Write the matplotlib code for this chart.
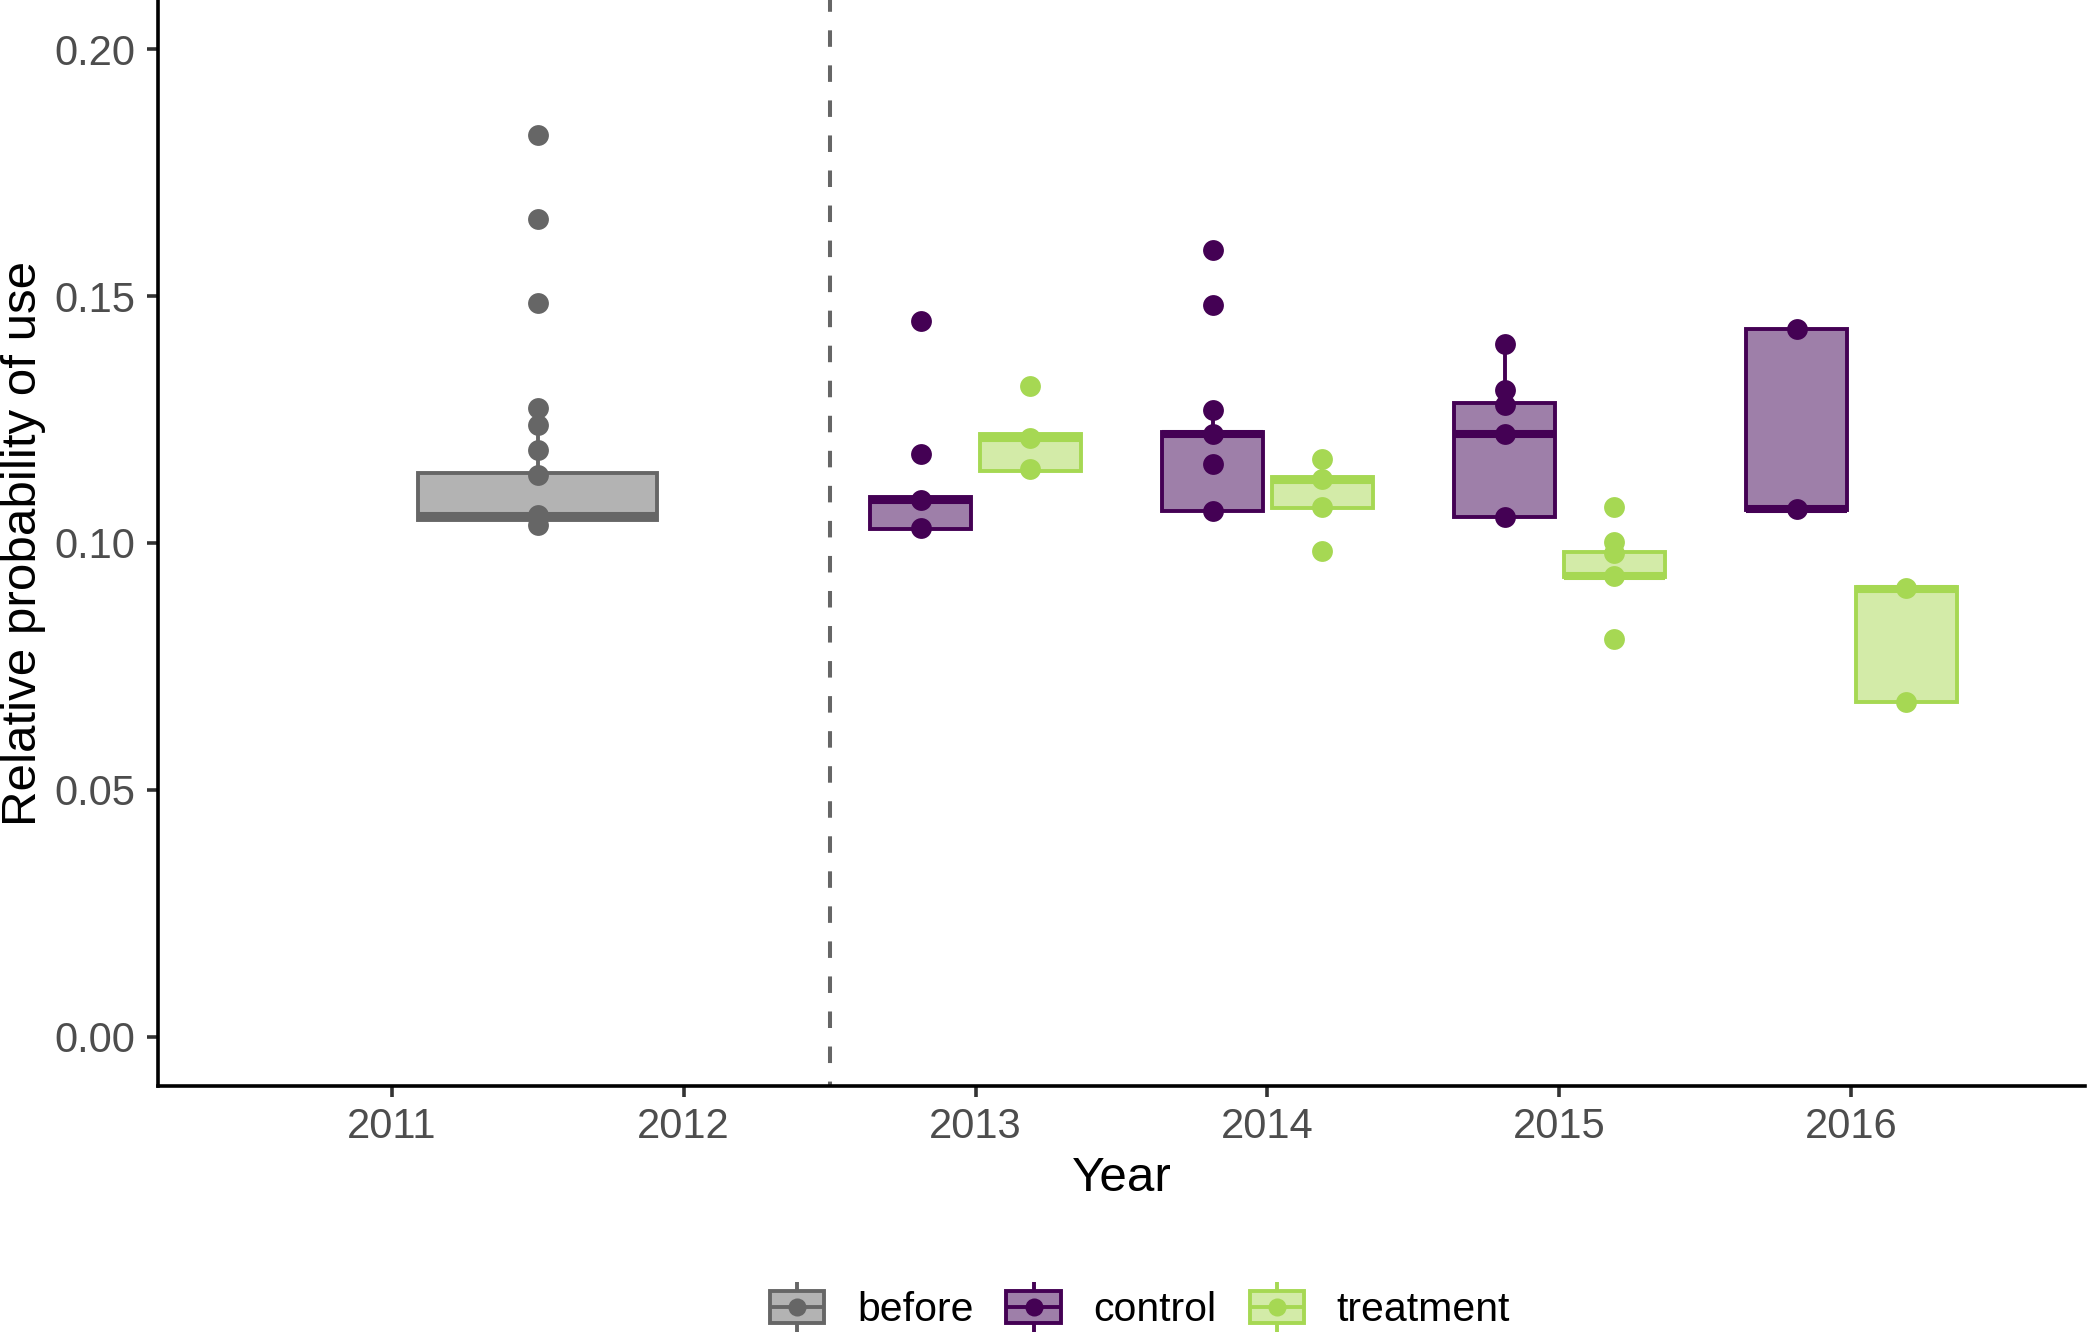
import matplotlib
matplotlib.use("Agg")
import matplotlib.pyplot as plt
import numpy as np
from matplotlib.legend_handler import HandlerBase
from matplotlib.patches import Rectangle
from matplotlib.lines import Line2D

plt.rcParams['font.family'] = ['Liberation Sans', 'DejaVu Sans']

# ---------------- data ----------------
years = [2013, 2014, 2015, 2016]
before_position = 2011.5
cutoff_year = 2012.5

# box stats: [whisker_low, q1, median, q3, whisker_high]
before_box = [0.1037, 0.1046, 0.1054, 0.1142, 0.1274]
control_box = [
    [0.1029, 0.1029, 0.1088, 0.1093, 0.1093],
    [0.1064, 0.1064, 0.1220, 0.1225, 0.1269],
    [0.1052, 0.1052, 0.1220, 0.1283, 0.1403],
    [0.1066, 0.1066, 0.1069, 0.1434, 0.1434],
]
treatment_box = [
    [0.1146, 0.1146, 0.1213, 0.1220, 0.1220],
    [0.1071, 0.1071, 0.1127, 0.1133, 0.1171],
    [0.0931, 0.0931, 0.0933, 0.0982, 0.1002],
    [0.0677, 0.0677, 0.0907, 0.0911, 0.0911],
]

before_points = [0.1827, 0.1656, 0.1486, 0.1274, 0.1240, 0.1189, 0.1137, 0.1056, 0.1036]
control_points = [
    [0.1450, 0.1181, 0.1088, 0.1031],
    [0.1593, 0.1482, 0.1269, 0.1220, 0.1161, 0.1065],
    [0.1403, 0.1310, 0.1279, 0.1220, 0.1053],
    [0.1434, 0.1069],
]
treatment_points = [
    [0.1318, 0.1213, 0.1150],
    [0.1171, 0.1129, 0.1073, 0.0983],
    [0.1072, 0.1002, 0.0979, 0.0933, 0.0806],
    [0.0909, 0.0678],
]

group_labels = ["before", "control", "treatment"]
y_ticks = [0.00, 0.05, 0.10, 0.15, 0.20]
x_ticks = [2011, 2012, 2013, 2014, 2015, 2016]

# ---------------- style ----------------
edge_colors = {"before": "#666666", "control": "#440154", "treatment": "#A6D853"}
face_colors = {"before": "#B3B3B3", "control": "#9E7FA9", "treatment": "#D3EBA8"}
box_lw = 2.8
med_lw = 5.8
dodge = 0.1875
box_w = 0.345
before_w = 0.82
point_size = 15.0

W, H = 2088, 1337
fig = plt.figure(figsize=(W / 100, H / 100), dpi=100)
ax_left, ax_right, ax_bottom_px, ax_top_px = 158, 2085, 1086, 0
ax = fig.add_axes([ax_left / W, 1 - ax_bottom_px / H,
                   (ax_right - ax_left) / W, (ax_bottom_px - ax_top_px) / H])


def to_stats(rows):
    return [dict(whislo=r[0], q1=r[1], med=r[2], q3=r[3], whishi=r[4]) for r in rows]


def draw_boxes(rows, positions, width, key):
    ec, fc = edge_colors[key], face_colors[key]
    ax.bxp(to_stats(rows), positions=positions, widths=width,
           patch_artist=True, showfliers=False, showcaps=False,
           boxprops=dict(facecolor=fc, edgecolor=ec, linewidth=box_lw, joinstyle='miter'),
           medianprops=dict(color=ec, linewidth=med_lw, solid_capstyle='butt'),
           whiskerprops=dict(color=ec, linewidth=box_lw, solid_capstyle='butt'),
           manage_ticks=False, zorder=2)


def draw_points(values, pos, key):
    ax.plot(np.full(len(values), pos), values, linestyle='none', marker='o',
            markersize=point_size, markerfacecolor=edge_colors[key],
            markeredgecolor=edge_colors[key], markeredgewidth=0, zorder=3)


ctrl_pos = [y - dodge for y in years]
trt_pos = [y + dodge for y in years]

draw_boxes([before_box], [before_position], before_w, "before")
draw_boxes(control_box, ctrl_pos, box_w, "control")
draw_boxes(treatment_box, trt_pos, box_w, "treatment")

draw_points(before_points, before_position, "before")
for p, vals in zip(ctrl_pos, control_points):
    draw_points(vals, p, "control")
for p, vals in zip(trt_pos, treatment_points):
    draw_points(vals, p, "treatment")

ax.axvline(cutoff_year, color="#666666", linewidth=2.9,
           linestyle=(3.0, (4.1, 4.6)), zorder=1)

# ---------------- axes ----------------
ax.set_xlim(2010.2, 2016.8)
ax.set_ylim(-0.01, 0.21)
ax.set_xticks(x_ticks)
ax.set_xticklabels([str(x) for x in x_ticks])
ax.set_yticks(y_ticks)
ax.set_yticklabels([f"{v:.2f}" for v in y_ticks])

for s in ["top", "right"]:
    ax.spines[s].set_visible(False)
for s in ["left", "bottom"]:
    ax.spines[s].set_linewidth(2.6)
    ax.spines[s].set_color("black")

ax.tick_params(axis='both', length=7.6, width=2.6, color="#333333",
               labelcolor="#4D4D4D", labelsize=30)
ax.tick_params(axis='x', pad=7.5)
ax.tick_params(axis='y', pad=9)

ax.set_xlabel("Year", fontsize=35.5, color="black")
ax.xaxis.set_label_coords(0.5, (ax_bottom_px - 1156) / (ax_bottom_px - ax_top_px))
ax.set_ylabel("Relative probability of use", fontsize=35.5, color="black")
ax.yaxis.set_label_coords((46.5 - ax_left) / (ax_right - ax_left), 0.5)


# ---------------- legend ----------------
class KeyHandle:
    def __init__(self, key):
        self.key = key


class BoxKeyHandler(HandlerBase):
    def create_artists(self, legend, orig_handle, xdescent, ydescent,
                       width, height, fontsize, trans):
        ec = edge_colors[orig_handle.key]
        fc = face_colors[orig_handle.key]
        x0, y0 = -xdescent, -ydescent
        bh = height * 0.64
        by = y0 + (height - bh) / 2
        cx = x0 + width / 2
        cy = y0 + height / 2
        rect = Rectangle((x0, by), width, bh, facecolor=fc, edgecolor=ec,
                         linewidth=box_lw, transform=trans)
        med = Line2D([x0, x0 + width], [cy, cy], color=ec, linewidth=box_lw,
                     solid_capstyle='butt', transform=trans)
        wt = Line2D([cx, cx], [by + bh, y0 + height], color=ec, linewidth=box_lw,
                    solid_capstyle='butt', transform=trans)
        wb = Line2D([cx, cx], [y0, by], color=ec, linewidth=box_lw,
                    solid_capstyle='butt', transform=trans)
        dot = Line2D([cx], [cy], marker='o', markersize=13, color=ec,
                     markeredgewidth=0, linestyle='none', transform=trans)
        return [rect, med, wt, wb, dot]


handles = [KeyHandle(k) for k in group_labels]
fig.legend(handles, group_labels, handler_map={KeyHandle: BoxKeyHandler()},
           loc='center', bbox_to_anchor=(1140 / W, 1 - 1307 / H), ncol=3,
           frameon=False, fontsize=29.5, handlelength=1.33, handleheight=1.5,
           handletextpad=0.8, columnspacing=0.8, borderpad=0.2)

fig.savefig("out.png", dpi=100)
